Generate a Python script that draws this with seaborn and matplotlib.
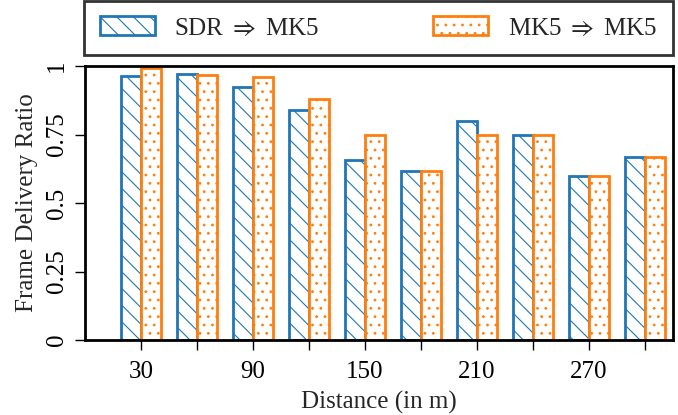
import matplotlib
matplotlib.use("Agg")
import matplotlib.pyplot as plt
import seaborn as sns
import pandas as pd
import numpy as np
from matplotlib.patches import Patch

distances = [30, 60, 90, 120, 150, 180, 210, 240, 270, 300]
sdr_mk5 = [0.965, 0.970, 0.925, 0.838, 0.656, 0.615, 0.800, 0.750, 0.600, 0.667]
mk5_mk5 = [0.992, 0.967, 0.960, 0.879, 0.750, 0.615, 0.750, 0.750, 0.600, 0.667]
series = ["SDR $\\Rightarrow$ MK5", "MK5 $\\Rightarrow$ MK5"]
colors = ["#1f77b4", "#ff7f0e"]
hatches = ["\\\\", ".."]
xtick_labels = ["30", "", "90", "", "150", "", "210", "", "270", ""]
ytick_vals = [0, 0.25, 0.5, 0.75, 1]
ytick_labels = ["0", "0.25", "0.5", "0.75", "1"]

df = pd.DataFrame({
    "Distance": distances * 2,
    "Ratio": sdr_mk5 + mk5_mk5,
    "Series": [series[0]] * len(distances) + [series[1]] * len(distances),
})

sns.set_style("ticks")
plt.rcParams["font.family"] = ["Liberation Serif", "DejaVu Serif"]
plt.rcParams["mathtext.fontset"] = "stix"
plt.rcParams["hatch.linewidth"] = 0.8
FS = 18
plt.rcParams["font.size"] = FS

fig = plt.figure(figsize=(6.78, 4.15), dpi=100)
ax = fig.add_axes([85 / 678, 1 - 340 / 415, (673 - 85) / 678, (340 - 66) / 415])

sns.barplot(data=df, x="Distance", y="Ratio", hue="Series", hue_order=series,
            palette=colors, native_scale=True, width=0.73, ax=ax,
            errorbar=None, legend=False, saturation=1)

for i, cont in enumerate(ax.containers):
    for bar in cont:
        bar.set_facecolor("white")
        bar.set_edgecolor(colors[i])
        bar.set_hatch(hatches[i])
        bar.set_linewidth(2)

ax.set_xlim(0, 315)
ax.set_ylim(0, 1)
ax.set_xticks(distances)
ax.set_xticklabels(xtick_labels, fontsize=FS)
ax.set_yticks(ytick_vals)
ax.set_yticklabels(ytick_labels, fontsize=FS, rotation=90, va="center")
ax.set_xlabel("Distance (in m)", fontsize=FS, labelpad=6)
ax.set_ylabel("Frame Delivery Ratio", fontsize=FS, labelpad=6)
for s in ax.spines.values():
    s.set_visible(True)
    s.set_linewidth(2)
    s.set_color("black")
ax.tick_params(axis="both", direction="out", length=7, width=1, colors="black")
ax.tick_params(axis="y", pad=5)
ax.tick_params(axis="x", pad=8)

handles = [Patch(facecolor="white", edgecolor=colors[i], hatch=hatches[i], linewidth=2)
           for i in range(2)]
leg = fig.legend(handles, series, loc="lower left",
                 bbox_to_anchor=(84 / 678, 1 - 55 / 415, (673 - 84) / 678, 52 / 415),
                 ncol=2, mode="expand", fontsize=FS, frameon=True, fancybox=False,
                 edgecolor="black", handlelength=2.2, handleheight=0.8,
                 borderaxespad=0, borderpad=0.62, handletextpad=0.8)
leg.get_frame().set_linewidth(2)

fig.savefig("out.png", dpi=100)
